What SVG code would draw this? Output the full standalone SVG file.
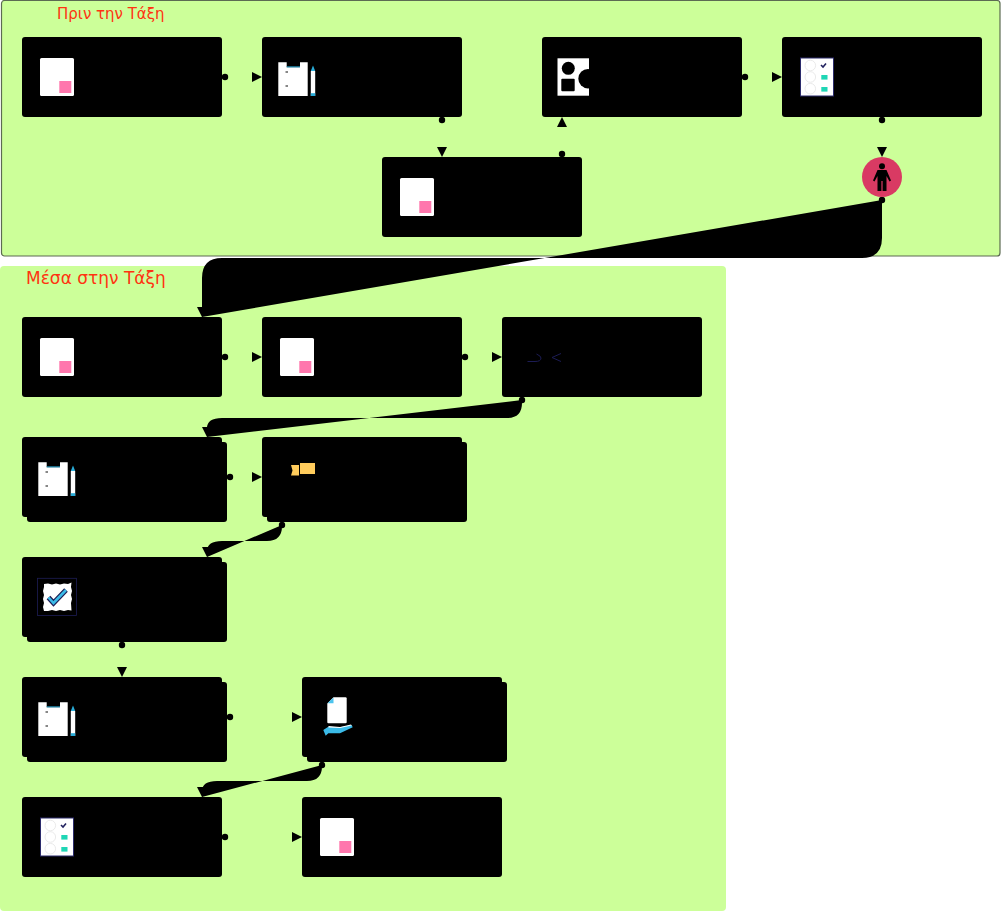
<svg xmlns="http://www.w3.org/2000/svg" xmlns:xlink="http://www.w3.org/1999/xlink" width="1002" height="913" viewBox="0 0 1002 913">
<style>
.title{font-family:"DejaVu Sans",sans-serif;fill:#ff3311}
.box{fill:#000}
.conn{fill:#000;stroke:none;marker-start:url(#dot);marker-end:url(#tri)}
.white{fill:#fff}
</style>
<defs>
<marker id="dot" markerUnits="userSpaceOnUse" markerWidth="8" markerHeight="8" refX="4" refY="4" orient="auto"><circle cx="4" cy="4" r="3.2" fill="#000"/></marker>
<marker id="tri" markerUnits="userSpaceOnUse" markerWidth="10" markerHeight="10" refX="10" refY="5" orient="auto"><path d="M0,0L10,5L0,10Z" fill="#000"/></marker>
<g id="i-doc"><rect x="40" y="58" width="34" height="38" rx="1.5" fill="#fff"/><rect x="59.3" y="81" width="12" height="12" fill="#ff77ad"/></g>
<g id="i-clip">
<path d="M278.3,62.3H286.7V67.3H300V62.3H307.7V96H278.3Z" fill="#fff"/>
<path d="M286.7,66.9H300" stroke="#29abd8" stroke-width="1" fill="none"/>
<path d="M285.5,72h2.5M285.5,86h2.5" stroke="#111" stroke-width="1.2" fill="none"/>
<rect x="310.8" y="71" width="4.4" height="25" fill="#fff"/>
<path d="M310.8,71L313,65.5L315.2,71Z" fill="#29abd8"/>
<rect x="310.8" y="93.2" width="4.4" height="2.8" fill="#29abd8"/>
</g>
<g id="i-survey">
<rect x="800.5" y="58" width="33" height="38" fill="#fff" stroke="#2b2b6b" stroke-width="1"/>
<g fill="none" stroke="#e4e4e4" stroke-width=".8"><circle cx="810.3" cy="65.5" r="5.3"/><circle cx="810.3" cy="77" r="5.3"/><circle cx="810.3" cy="88.7" r="5.3"/></g>
<path d="M821,65L823,67L826,63.5" fill="none" stroke="#232360" stroke-width="1.6"/>
<rect x="821.3" y="75" width="6.2" height="4.6" fill="#1fd6b5"/>
<rect x="821.3" y="87" width="6.2" height="4.6" fill="#1fd6b5"/>
</g>
</defs>

<rect id="before-class" x="1.5" y=".5" width="998.5" height="255.5" rx="3" fill="#ccff99" stroke="#5c6b52" stroke-width="1.2"/>
<rect id="in-class" x="0" y="266" width="726" height="645" rx="4" fill="#ccff99"/>
<text class="title" x="57" y="19" font-size="15">Πριν την Τάξη</text>
<text class="title" x="26" y="284" font-size="17">Μέσα στην Τάξη</text>

<g id="connectors">
<path class="conn" d="M225,77H262"/>
<path class="conn" d="M442,120V157"/>
<path class="conn" d="M562,154V117"/>
<path class="conn" d="M745,77H782"/>
<path class="conn" d="M882,120V157"/>
<path class="conn" d="M882,200V238Q882,258 862,258H222Q202,258 202,278V317"/>
<path class="conn" d="M225,357H262"/>
<path class="conn" d="M465,357H502"/>
<path class="conn" d="M522,400V403Q522,418 507,418H222Q207,418 207,428V437"/>
<path class="conn" d="M230,477H262"/>
<path class="conn" d="M282,525V526Q282,541 267,541H222Q207,541 207,551V557"/>
<path class="conn" d="M122,645V677"/>
<path class="conn" d="M230,717H302"/>
<path class="conn" d="M322,765V766Q322,781 307,781H217Q202,781 202,791V797"/>
<path class="conn" d="M225,837H302"/>
</g>

<g id="n1"><rect class="box" x="22" y="37" width="200" height="80" rx="3"/><use href="#i-doc"/></g>
<g id="n2"><rect class="box" x="262" y="37" width="200" height="80" rx="3"/><use href="#i-clip"/></g>
<g id="n3"><rect class="box" x="382" y="157" width="200" height="80" rx="3"/><use href="#i-doc" x="360" y="120"/></g>
<g id="n4"><rect class="box" x="542" y="37" width="200" height="80" rx="3"/>
<rect class="white" x="557.5" y="58.3" width="31.5" height="37.4"/>
<circle cx="568.3" cy="68.3" r="6.5" fill="#000"/>
<rect x="561.3" y="78.7" width="13.4" height="12.6" rx="1" fill="#000"/>
<circle cx="588" cy="78.7" r="9.7" fill="#000"/>
</g>
<g id="n5"><rect class="box" x="782" y="37" width="200" height="80" rx="3"/><use href="#i-survey"/></g>
<g id="n6"><circle cx="882" cy="177" r="20" fill="#d93a63"/>
<circle cx="882" cy="166.3" r="3" fill="#000"/>
<path d="M877.5,170H886.5L891,180.5L889.5,181.5L886.5,176V191H882.6V181H881.4V191H877.5V176L874.5,181.5L873,180.5Z" fill="#000"/>
</g>

<g id="n7"><rect class="box" x="22" y="317" width="200" height="80" rx="3"/><use href="#i-doc" y="280"/></g>
<g id="n8"><rect class="box" x="262" y="317" width="200" height="80" rx="3"/><use href="#i-doc" x="240" y="280"/></g>
<g id="n9"><rect class="box" x="502" y="317" width="200" height="80" rx="3"/>
<path d="M527.5,361.5H535Q541,361.5 541,358Q541,356 536.5,354M561,353.5L552,357.5L561,361.5" fill="none" stroke="#1c1c55" stroke-width="1"/>
</g>
<g id="n10"><rect class="box" x="22" y="437" width="200" height="80" rx="3"/><rect class="box" x="27" y="442" width="200" height="80" rx="3"/><use href="#i-clip" x="-240" y="400"/></g>
<g id="n11"><rect class="box" x="262" y="437" width="200" height="80" rx="3"/><rect class="box" x="267" y="442" width="200" height="80" rx="3"/>
<rect x="300" y="463" width="15" height="11" fill="#ffcc5c"/>
<path d="M291,465H299V475.5H291L292.5,470.5Z" fill="#ffcc5c"/>
</g>
<g id="n12"><rect class="box" x="22" y="557" width="200" height="80" rx="3"/><rect class="box" x="27" y="562" width="200" height="80" rx="3"/>
<rect x="37.5" y="578.3" width="39" height="37.2" fill="none" stroke="#1d1d55" stroke-width=".8"/>
<path d="M44,584L48,583.5L52,584.5L56,583.5L60,584.5L64,583.5L68,584L71.5,582.5L71,587L72,591L71,595L72,599L71,603L71.5,610.5L68,610L64,611L60,610L56,611L52,610L48,611L44,611L43,607L44,603L43,599L44,595L43,591L44,587Z" fill="#fff"/>
<path d="M48.5,597.5L53.5,603L66,590" fill="none" stroke="#1d1d55" stroke-width="5"/>
<path d="M48.5,597.5L53.5,603L66,590" fill="none" stroke="#3bbbe8" stroke-width="2.6"/>
</g>
<g id="n13"><rect class="box" x="22" y="677" width="200" height="80" rx="3"/><rect class="box" x="27" y="682" width="200" height="80" rx="3"/><use href="#i-clip" x="-240" y="640"/></g>
<g id="n14"><rect class="box" x="302" y="677" width="200" height="80" rx="3"/><rect class="box" x="307" y="682" width="200" height="80" rx="3"/>
<path d="M333.5,697.3H345.5Q346.7,697.3 346.7,698.5V722.3Q346.7,723.3 345.5,723.3H328.3Q327.3,723.3 327.3,722.3V703.5Z" fill="#fff"/>
<path d="M327.5,703.3L333.5,697.5V703.3Z" fill="#4cc4ee"/>
<path d="M323.3,730L328.3,726.7L340,727.3L351.7,725L352.7,727.3L340,733.3L328.3,733.3L325.7,735.7Z" fill="#3bbbe8"/>
<path d="M328.5,726L340,727L351,724.5L351.7,725.5L340,728L328.5,727.5Z" fill="#fff"/>
</g>
<g id="n15"><rect class="box" x="22" y="797" width="200" height="80" rx="3"/><use href="#i-survey" x="-760" y="760"/></g>
<g id="n16"><rect class="box" x="302" y="797" width="200" height="80" rx="3"/><use href="#i-doc" x="280" y="760"/></g>
</svg>
